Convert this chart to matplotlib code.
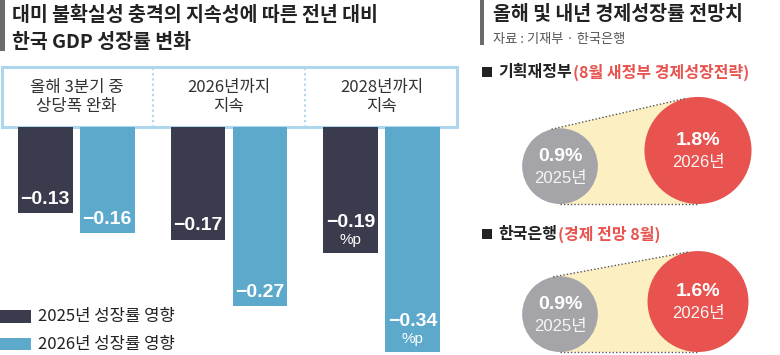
import matplotlib
matplotlib.use('Agg')
import matplotlib.pyplot as plt
from matplotlib.patches import Rectangle, Circle, Polygon
from matplotlib.transforms import blended_transform_factory
import numpy as np

plt.rcParams['font.family'] = ['Noto Sans CJK KR', 'DejaVu Sans']

# --- data ---
scenarios = ['올해 3분기 중\n상당폭 완화', '2026년까지\n지속', '2028년까지\n지속']
impact_2025 = [-0.13, -0.17, -0.19]
impact_2026 = [-0.16, -0.27, -0.34]
series_labels = ['2025년 성장률 영향', '2026년 성장률 영향']
show_unit = [False, False, True]  # '%p' only printed on the last group

forecast_years = ['2025년', '2026년']
moef_forecast = [0.9, 1.8]   # 기획재정부
bok_forecast = [0.9, 1.6]    # 한국은행

DARK = '#3a3b4d'
LIGHT = '#5ca9cc'
BOX = '#aed6ec'
RED = '#e8534f'
GRAY = '#a5a5a9'
YELLOW = '#fcf0c3'
NUM = ['Liberation Sans', 'Noto Sans CJK KR']

fig = plt.figure(figsize=(7.8, 3.55), dpi=100)

# overlay in pixel coords for the decorations
ov = fig.add_axes([0, 0, 1, 1])
ov.set_xlim(0, 780)
ov.set_ylim(355, 0)
ov.axis('off')

# bar chart
ax = fig.add_axes([0, 0, 458 / 780, 228 / 355])
ax.patch.set_alpha(0)
x = np.arange(len(scenarios))
w, off = 0.36, 0.203
ax.bar(x - off, impact_2025, w, color=DARK)
ax.bar(x + off, impact_2026, w, color=LIGHT)
ax.set_xlim(-0.5, 2.5)
ax.set_ylim(-0.344, 0)
ax.axis('off')

for xs, vals in [(x - off, impact_2025), (x + off, impact_2026)]:
    for xi, v, unit in zip(xs, vals, show_unit):
        lab = '\u2212' + f'{abs(v):.2f}'
        if unit:
            ax.annotate(lab, (xi, v), xytext=(0, 22), textcoords='offset points',
                        ha='center', va='center', color='white', fontsize=14,
                        fontweight='bold', family=NUM)
            ax.annotate('%p', (xi, v), xytext=(0, 9.5), textcoords='offset points',
                        ha='center', va='center', color='white', fontsize=11, family=NUM)
        else:
            ax.annotate(lab, (xi, v), xytext=(0, 10), textcoords='offset points',
                        ha='center', va='center', color='white', fontsize=14,
                        fontweight='bold', family=NUM)

# header box with scenario names
trans = blended_transform_factory(ax.transData, ov.transData)
ov.add_patch(Rectangle((1.5, 67), 455.5, 60, fill=False, ec=BOX, lw=2.2))
for sep in [0.5, 1.5]:
    ov.plot([sep, sep], [68, 126], transform=trans, color=BOX, lw=1.5, ls=(0, (1, 1.5)))
for xi, s in zip(x, scenarios):
    ov.text(xi, 97, s, transform=trans, ha='center', va='center', fontsize=12,
            color='#333333', linespacing=1.2)

# left title
ov.add_patch(Rectangle((0, 0), 5, 51, color='#6b6b6b', lw=0))
ov.text(12, 15, '대미 불확실성 충격의 지속성에 따른 전년 대비', fontsize=14,
        fontweight='bold', va='center', color='#222222')
ov.text(12, 42, '한국 GDP 성장률 변화', fontsize=14, fontweight='bold',
        va='center', color='#222222')

# legend
for (y0, h, yt), c, lab in zip([(310, 13, 317), (338, 12, 344)], [DARK, LIGHT], series_labels):
    ov.add_patch(Rectangle((0, y0), 31, h, color=c, lw=0))
    ov.text(38, yt, lab, fontsize=12, va='center', color='#222222')

# right title
ov.add_patch(Rectangle((480, 0), 4, 45, color='#6b6b6b', lw=0))
ov.text(493, 15, '올해 및 내년 경제성장률 전망치', fontsize=14, fontweight='bold',
        va='center', color='#222222')
ov.text(493, 39, '자료 : 기재부 · 한국은행', fontsize=9.5, va='center', color='#555555')

renderer = fig.canvas.get_renderer()


def subtitle(y, black, red):
    ov.add_patch(Rectangle((482, y - 5), 10, 10, color='#222222', lw=0))
    t = ov.text(498, y, black, fontsize=11.5, fontweight='bold', va='center', color='#222222')
    x1 = t.get_window_extent(renderer=renderer).x1
    ov.text(x1 + 1, y, red, fontsize=11.5, fontweight='bold', va='center', color=RED)


def tangent(c1, r1, c2, r2, sign):
    c1, c2 = np.array(c1, float), np.array(c2, float)
    d = c2 - c1
    D = np.hypot(*d)
    d /= D
    k = (r2 - r1) / D
    perp = np.array([-d[1], d[0]])
    n = k * d + sign * np.sqrt(1 - k * k) * perp
    return c1 - r1 * n, c2 - r2 * n


def bubbles(values, bottom, cxs=(560, 698), scale=39.9):
    radii = [scale * np.sqrt(v) for v in values]
    centers = [(cx, bottom - r) for cx, r in zip(cxs, radii)]
    top1, top2 = tangent(centers[0], radii[0], centers[1], radii[1], 1)
    bot1, bot2 = tangent(centers[0], radii[0], centers[1], radii[1], -1)
    ov.add_patch(Polygon([top1, top2, bot2, bot1], color=YELLOW, lw=0))
    for a, b in [(top1, top2), (bot1, bot2)]:
        ov.plot([a[0], b[0]], [a[1], b[1]], color='#555555', lw=1, ls=(0, (1, 1.5)))
    for (cx, cy), r, v, yr, c in zip(centers, radii, values, forecast_years, [GRAY, RED]):
        ov.add_patch(Circle((cx, cy), r, color=c, lw=0))
        ov.text(cx, cy - 10, f'{v}%', ha='center', va='center', color='white',
                fontsize=14, fontweight='bold', family=NUM)
        ov.text(cx, cy + 12, yr, ha='center', va='center', color='#f6f6f6',
                fontsize=12, family=NUM)


subtitle(72, '기획재정부', '(8월 새정부 경제성장전략)')
bubbles(moef_forecast, 204)
subtitle(234, '한국은행', '(경제 전망 8월)')
bubbles(bok_forecast, 352)

fig.savefig('out.png', dpi=100)
